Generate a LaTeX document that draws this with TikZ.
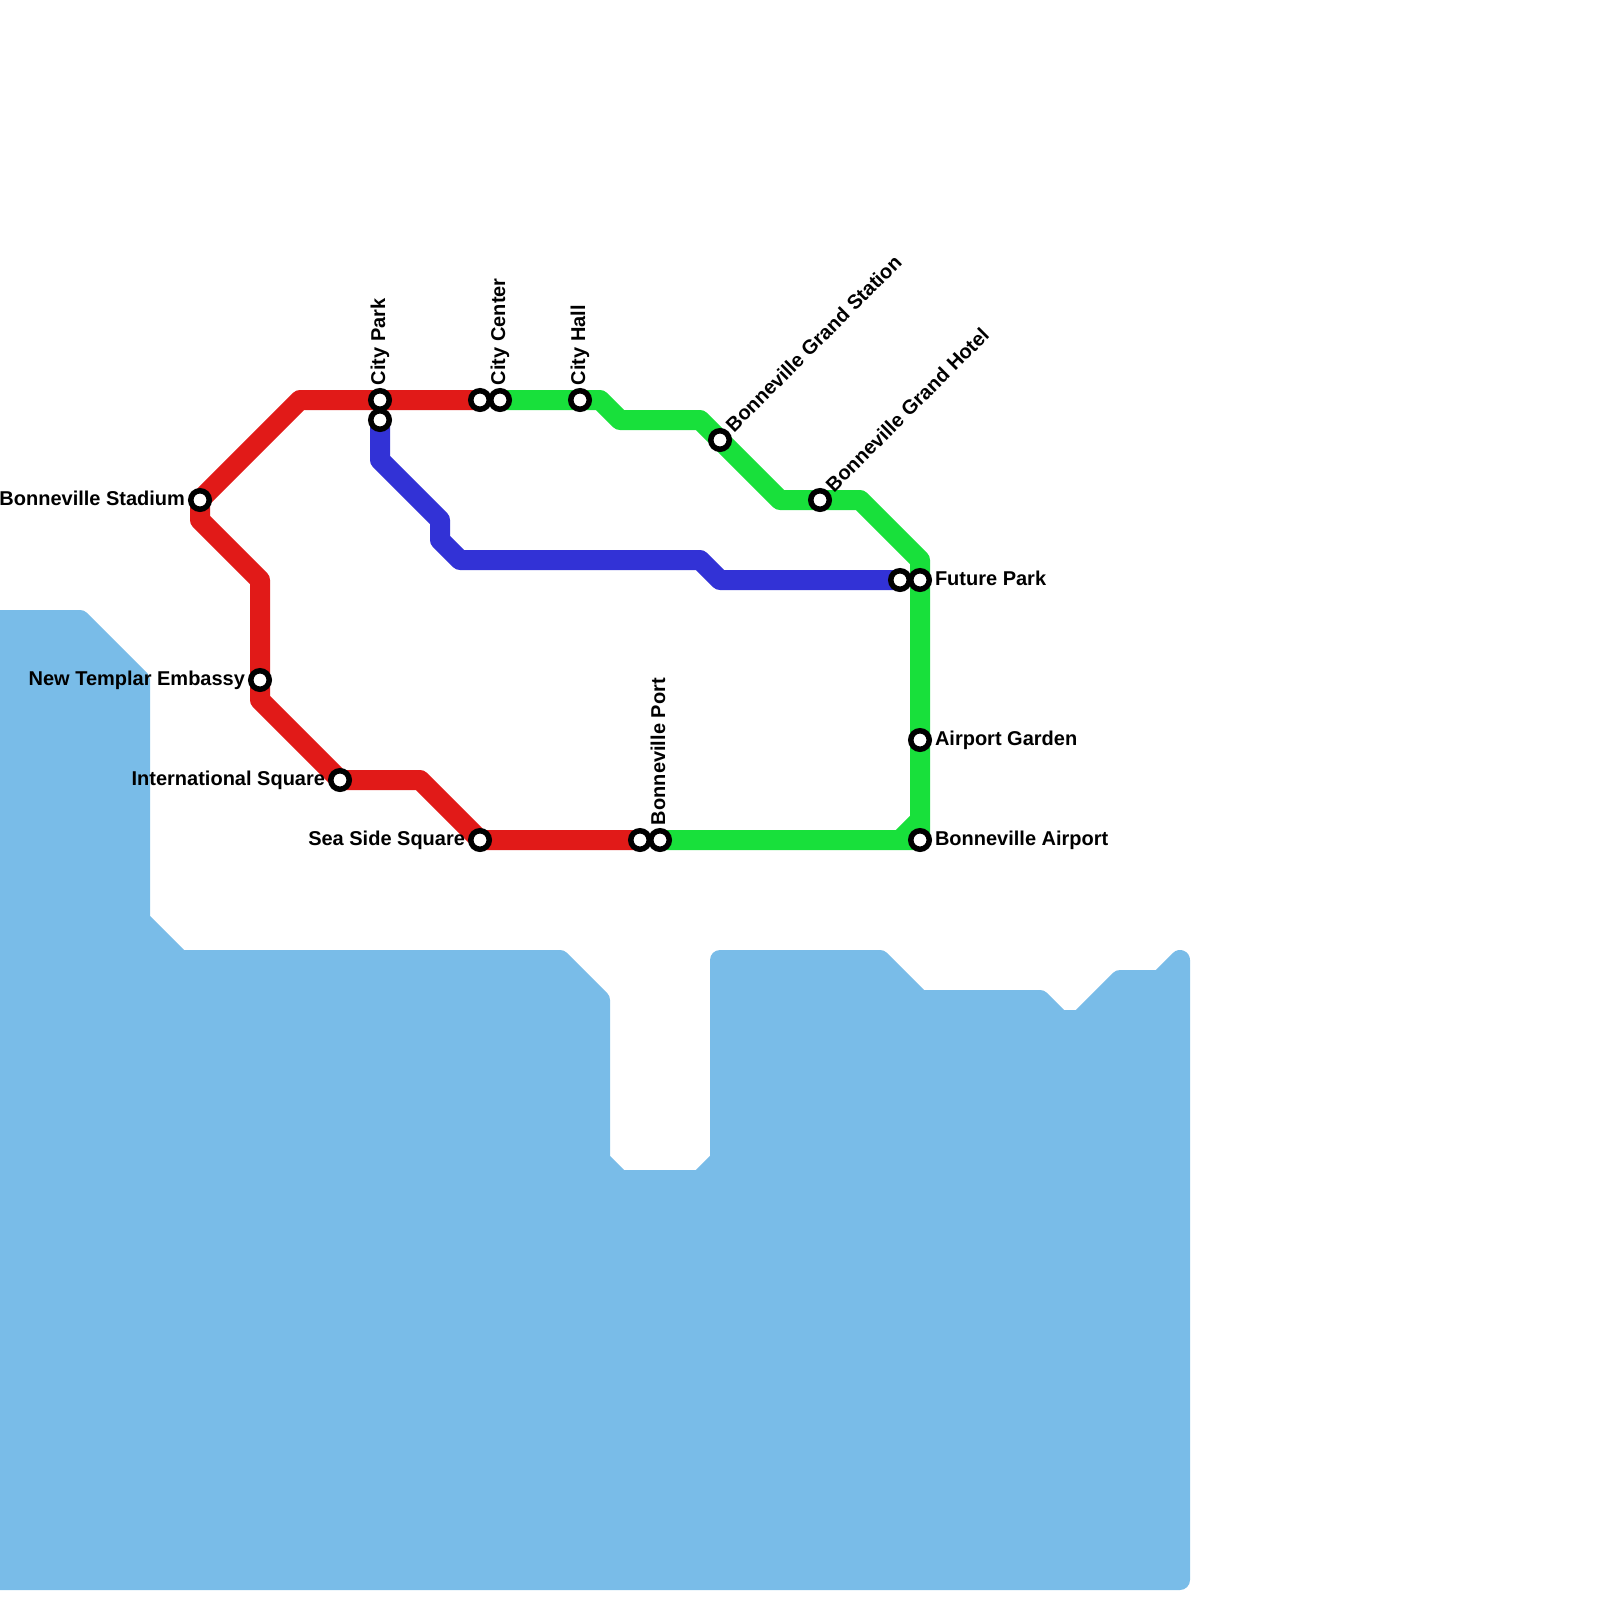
\documentclass[tikz,border=0pt]{standalone}
\usepackage{fontspec}
\setmainfont{Liberation Sans}
\usetikzlibrary{backgrounds}
\definecolor{waterblue}{HTML}{79BCE8}
\definecolor{redline}{HTML}{E11A18}
\definecolor{greenline}{HTML}{18E03B}
\definecolor{blueline}{HTML}{3232D6}
\begin{document}
\begin{tikzpicture}[x=0.5pt,y=-0.5pt,
  stn/.style={draw=black,fill=white,circle,line width=2.75pt,inner sep=0pt,outer sep=0pt,minimum size=9.25pt},
  stnlabel/.style={font=\bfseries\fontsize{10pt}{12pt}\selectfont,inner sep=0pt,outer sep=0pt},
  route/.style={line width=10pt,line join=round}]
\clip (0,0) rectangle (1600,1600);
\node[stn] (stadium) at (200,500) {};
\node[stn] (embassy) at (260,680) {};
\node[stn] (intlsquare) at (340,780) {};
\node[stn] (seaside) at (480,840) {};
\node[stn] (citypark) at (380,400) {};
\node[stn] (cityparkb) at (380,420) {};
\node[stn] (citycenterr) at (480,400) {};
\node[stn] (citycenter) at (500,400) {};
\node[stn] (cityhall) at (580,400) {};
\node[stn] (grandstation) at (720,440) {};
\node[stn] (grandhotel) at (820,500) {};
\node[stn] (futureparkb) at (900,580) {};
\node[stn] (futurepark) at (920,580) {};
\node[stn] (garden) at (920,740) {};
\node[stn] (airport) at (920,840) {};
\node[stn] (portr) at (640,840) {};
\node[stn] (port) at (660,840) {};
\node[stnlabel,anchor=base east] (lblstadium) at (185,505) {Bonneville Stadium};
\node[stnlabel,anchor=base east] (lblembassy) at (245,685) {New Templar Embassy};
\node[stnlabel,anchor=base east] (lblintlsquare) at (325,785) {International Square};
\node[stnlabel,anchor=base east] (lblseaside) at (465,845) {Sea Side Square};
\node[stnlabel,anchor=base west,rotate=90] (lblcitypark) at (385,385) {City Park};
\node[stnlabel,anchor=base west,rotate=90] (lblcitycenter) at (505,385) {City Center};
\node[stnlabel,anchor=base west,rotate=90] (lblcityhall) at (585,385) {City Hall};
\node[stnlabel,anchor=base west,rotate=90] (lblport) at (665,825) {Bonneville Port};
\node[stnlabel,anchor=base west,rotate=45] (lblgrandstation) at (734,433) {Bonneville Grand Station};
\node[stnlabel,anchor=base west,rotate=45] (lblgrandhotel) at (834,493) {Bonneville Grand Hotel};
\node[stnlabel,anchor=base west] (lblfuturepark) at (935,585) {Future Park};
\node[stnlabel,anchor=base west] (lblgarden) at (935,745) {Airport Garden};
\node[stnlabel,anchor=base west] (lblairport) at (935,845) {Bonneville Airport};
\begin{scope}[on background layer]
\draw[waterblue,fill=waterblue,line width=10pt,line join=round] (-20,620)--(80,620)--(140,680)--(140,920)--(180,960)--(560,960)--(600,1000)--(600,1160)--(620,1180)--(700,1180)--(720,1160)--(720,960)--(880,960)--(920,1000)--(1040,1000)--(1060,1020)--(1080,1020)--(1120,980)--(1160,980)--(1180,960)--(1180,1580)--(-20,1580)--cycle;
\draw[route,redline] (citycenterr.center)--(300,400)--(stadium.center)--(200,520)--(260,580)--(embassy.center)--(260,700)--(intlsquare.center)--(420,780)--(seaside.center)--(portr.center);
\draw[route,blueline] (cityparkb.center)--(380,460)--(440,520)--(440,540)--(460,560)--(700,560)--(720,580)--(futureparkb.center);
\draw[route,greenline] (citycenter.center)--(600,400)--(620,420)--(700,420)--(780,500)--(860,500)--(920,560)--(airport.center)--(port.center);
\draw[route,greenline] (920,820)--(900,840);
\end{scope}
\end{tikzpicture}
\end{document}
